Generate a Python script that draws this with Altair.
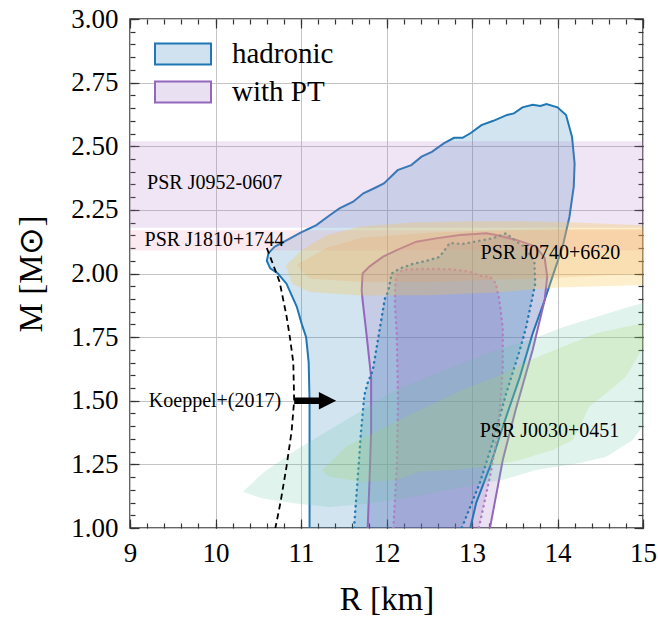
import altair as alt
import pandas as pd

SERIF = "Liberation Serif"

# ---------------- axes ----------------
x_domain = [9, 15]
y_domain = [1.0, 3.0]
x_major = [9, 10, 11, 12, 13, 14, 15]
y_major = [1.0, 1.25, 1.5, 1.75, 2.0, 2.25, 2.5, 2.75, 3.0]
x_minor = [round(9 + 0.2 * k, 2) for k in range(31)]
y_minor = [round(1 + 0.05 * k, 2) for k in range(41)]

# ---------------- contours ----------------
hadronic_R = [11.10, 11.10, 11.10, 11.09, 11.06, 11.01, 10.95, 10.83, 10.73, 10.64, 10.60, 10.62,
              10.69, 10.83, 10.99, 11.18, 11.34, 11.45, 11.61, 11.73, 11.85, 11.97, 12.13, 12.29,
              12.41, 12.53, 12.67, 12.79, 12.89, 12.99, 13.11, 13.25, 13.41, 13.49, 13.59, 13.71,
              13.80, 13.87, 14.00, 14.10, 14.17, 14.20, 14.19, 14.14, 14.06, 13.94, 13.85, 13.71,
              13.56, 13.36, 13.21, 13.05, 12.98]
hadronic_M = [1.00, 1.32, 1.50, 1.65, 1.75, 1.80, 1.87, 1.96, 2.00, 2.02, 2.05, 2.08,
              2.105, 2.13, 2.16, 2.19, 2.23, 2.256, 2.282, 2.315, 2.334, 2.354, 2.406, 2.426,
              2.459, 2.478, 2.511, 2.533, 2.533, 2.553, 2.583, 2.600, 2.623, 2.629, 2.653, 2.663,
              2.658, 2.666, 2.653, 2.623, 2.537, 2.432, 2.341, 2.223, 2.105, 1.987, 1.896, 1.765,
              1.594, 1.398, 1.241, 1.10, 1.00]

pt_R = [11.78, 11.80, 11.82, 11.82, 11.765, 11.72, 11.71, 11.72, 11.80, 11.96, 12.12, 12.35,
        12.58, 12.86, 13.17, 13.28, 13.52, 13.75, 13.85, 13.88, 13.85, 13.71, 13.51, 13.36, 13.21]
pt_M = [1.00, 1.176, 1.372, 1.594, 1.765, 1.896, 1.935, 2.00, 2.027, 2.066, 2.092, 2.125,
        2.138, 2.151, 2.158, 2.151, 2.132, 2.105, 2.06, 1.987, 1.896, 1.70, 1.464, 1.267, 1.00]

hadronic_in_R = [11.62, 11.66, 11.70, 11.74, 11.78, 11.84, 11.92, 11.98, 12.02, 12.06, 12.16, 12.30,
                 12.47, 12.62, 12.74, 12.89, 13.03, 13.24, 13.40, 13.48, 13.63, 13.73, 13.74, 13.70,
                 13.63, 13.56, 13.40, 13.24, 13.09, 12.88]
hadronic_in_M = [1.00, 1.18, 1.37, 1.52, 1.57, 1.62, 1.78, 1.90, 1.93, 2.00, 2.02, 2.037,
                 2.05, 2.065, 2.12, 2.116, 2.125, 2.138, 2.158, 2.136, 2.10, 2.045, 1.96, 1.896,
                 1.785, 1.70, 1.529, 1.333, 1.176, 1.00]

pt_in_R = [12.08, 12.12, 12.135, 12.12, 12.10, 12.10, 12.12, 12.19, 12.43, 12.74, 12.97, 13.13,
           13.21, 13.28, 13.32, 13.36, 13.36, 13.34, 13.30, 13.21, 13.08]
pt_in_M = [1.00, 1.24, 1.50, 1.765, 1.87, 1.948, 1.994, 2.014, 2.018, 2.017, 2.007, 1.988,
           1.988, 1.961, 1.896, 1.785, 1.634, 1.529, 1.372, 1.202, 1.00]

koeppel_R = [10.60, 10.68, 10.75, 10.83, 10.87, 10.91, 10.92, 10.89, 10.83, 10.76, 10.70]
koeppel_M = [2.10, 2.03, 1.967, 1.834, 1.75, 1.65, 1.50, 1.38, 1.24, 1.10, 1.00]

# ---------------- pulsar constraints ----------------
band_names = ["PSR J0952-0607", "PSR J1810+1744"]
band_lo = [2.18, 2.09]
band_hi = [2.52, 2.17]

j0740_out_R = [10.82, 11.00, 11.30, 11.70, 12.30, 13.00, 13.60, 14.20, 15.00, 15.00, 14.50, 14.00,
               13.25, 12.50, 11.70, 11.10, 10.90]
j0740_out_M = [2.03, 2.09, 2.15, 2.185, 2.20, 2.205, 2.205, 2.20, 2.19, 1.955, 1.95, 1.945,
               1.925, 1.915, 1.914, 1.927, 1.96]
j0740_in_R = [10.95, 11.30, 11.70, 12.50, 13.30, 14.00, 15.00, 15.00, 14.40, 13.80, 13.25, 12.50,
              11.70, 11.10]
j0740_in_M = [2.035, 2.10, 2.14, 2.16, 2.17, 2.175, 2.175, 2.00, 1.99, 1.98, 1.975, 1.967,
              1.967, 1.98]

j0030_out_R = [10.32, 10.55, 10.94, 11.33, 11.80, 12.31, 12.89, 13.36, 13.75, 14.26, 14.57, 14.88,
               15.00, 15.00, 14.85, 14.46, 14.07, 13.68, 13.29, 12.89, 12.50, 12.11, 11.72, 11.33,
               10.94, 10.55]
j0030_out_M = [1.142, 1.116, 1.096, 1.083, 1.096, 1.123, 1.162, 1.19, 1.228, 1.255, 1.28, 1.346,
               1.40, 1.884, 1.87, 1.83, 1.79, 1.74, 1.70, 1.648, 1.595, 1.543, 1.464, 1.385,
               1.306, 1.215]
j0030_in_R = [11.25, 11.53, 11.92, 12.31, 12.89, 13.29, 13.68, 14.07, 14.46, 15.00, 15.00, 14.80,
              14.57, 14.37, 14.26, 14.18, 13.95, 13.56, 13.17, 12.78, 12.39, 12.11, 11.72, 11.33]
j0030_in_M = [1.228, 1.32, 1.385, 1.45, 1.543, 1.595, 1.66, 1.713, 1.766, 1.805, 1.71, 1.594,
              1.529, 1.477, 1.398, 1.346, 1.307, 1.267, 1.241, 1.228, 1.221, 1.188, 1.182, 1.201]

# ---------------- annotations ----------------
label_text = ["PSR J0952-0607", "PSR J1810+1744", "PSR J0740+6620", "PSR J0030+0451", "Koeppel+(2017)"]
label_R = [9.20, 9.17, 13.10, 13.09, 9.22]
label_M = [2.354, 2.132, 2.081, 1.38, 1.50]

arrow_R = [10.92, 11.24]
arrow_head_R = [11.31]
arrow_M = [1.50]

legend_labels = ["hadronic", "with PT"]
legend_fill = ["#d0e2ef", "#e9e0f1"]
legend_stroke = ["#1f77b4", "#9467bd"]

BLUE = "#1f77b4"
PURPLE = "#9467bd"

XS = alt.Scale(domain=x_domain, nice=False, zero=False)
YS = alt.Scale(domain=y_domain, nice=False, zero=False)


def X(field, axis=None):
    return alt.X(field, type="quantitative", scale=XS, axis=axis)


def Y(field, axis=None):
    return alt.Y(field, type="quantitative", scale=YS, axis=axis)


def poly(R, M):
    return pd.DataFrame({"R": R, "M": M, "i": list(range(len(R)))})


def fill_layer(R, M, color, op):
    return alt.Chart(poly(R, M)).mark_line(
        fill=color, fillOpacity=op, strokeOpacity=0, strokeWidth=0, clip=True
    ).encode(x=X("R"), y=Y("M"), order=alt.Order("i:Q"))


def line_layer(R, M, color, width, dash=None, op=1.0, cap="butt"):
    kw = dict(color=color, strokeWidth=width, opacity=op, clip=True, strokeCap=cap)
    if dash is not None:
        kw["strokeDash"] = dash
    return alt.Chart(poly(R, M)).mark_line(**kw).encode(
        x=X("R"), y=Y("M"), order=alt.Order("i:Q"))


# ---- axis layers ----
anchor = pd.DataFrame({"R": [x_domain[0]], "M": [y_domain[0]]})


def tick_axis(orient, values, size):
    return alt.Axis(orient=orient, values=values, offset=-size, tickSize=size,
                    tickColor="#333333", tickWidth=1.2, labels=False, domain=False,
                    grid=False, title=None)


main_x = alt.Axis(orient="bottom", values=x_major, format="d", labelFont=SERIF,
                  labelFontSize=27, labelColor="black", labelPadding=12, labelFlush=False,
                  labelOverlap=False, ticks=False, domain=False, grid=True,
                  gridColor="#c4c4c4", gridWidth=1, title="R [km]", titleFont=SERIF,
                  titleFontSize=33, titleFontWeight="normal", titleColor="black",
                  titlePadding=17)
main_y = alt.Axis(orient="left", values=y_major, format=".2f", labelFont=SERIF,
                  labelFontSize=27, labelColor="black", labelPadding=12, labelFlush=False,
                  labelOverlap=False, ticks=False, domain=False, grid=True,
                  gridColor="#c4c4c4", gridWidth=1, title="M [M⊙]", titleFont=SERIF,
                  titleFontSize=33, titleFontWeight="normal", titleColor="black",
                  titlePadding=22)

base = alt.Chart(anchor).mark_point(opacity=0)
ax_main = base.encode(x=X("R", main_x), y=Y("M", main_y))
ax_b = base.encode(x=X("R", tick_axis("bottom", x_major, 9)), y=Y("M", tick_axis("left", y_major, 9)))
ax_t = base.encode(x=X("R", tick_axis("top", x_major, 9)), y=Y("M", tick_axis("right", y_major, 9)))
ax_bm = base.encode(x=X("R", tick_axis("bottom", x_minor, 5)), y=Y("M", tick_axis("left", y_minor, 5)))
ax_tm = base.encode(x=X("R", tick_axis("top", x_minor, 5)), y=Y("M", tick_axis("right", y_minor, 5)))

# ---- contour fills ----
f_h = fill_layer(hadronic_R, hadronic_M, BLUE, 0.2)
f_p = fill_layer(pt_R, pt_M, PURPLE, 0.2)
f_hi = fill_layer(hadronic_in_R, hadronic_in_M, BLUE, 0.2)
f_pi = fill_layer(pt_in_R, pt_in_M, PURPLE, 0.2)

# ---- contour lines ----
l_h = line_layer(hadronic_R, hadronic_M, BLUE, 2)
l_p = line_layer(pt_R, pt_M, PURPLE, 2)
l_hi = line_layer(hadronic_in_R, hadronic_in_M, BLUE, 2.4, dash=[0.4, 5.0], cap="round")
l_pi = line_layer(pt_in_R, pt_in_M, "#b07cc6", 2.4, dash=[0.4, 5.0], cap="round")

# ---- pulsar bands ----
bands = pd.DataFrame({"name": band_names, "lo": band_lo, "hi": band_hi,
                      "x0": [x_domain[0]] * 2, "x1": [x_domain[1]] * 2})
band_colors = ["#b07cc6", "#ec80aa"]
band_opacity = [0.2, 0.17]
band_layers = []
for k in range(2):
    band_layers.append(
        alt.Chart(bands.iloc[[k]]).mark_rect(color=band_colors[k], opacity=band_opacity[k]).encode(
            x=X("x0"), x2="x1", y=Y("lo"), y2="hi"))

j0740_o = fill_layer(j0740_out_R, j0740_out_M, "#f7c744", 0.28)
j0740_i = fill_layer(j0740_in_R, j0740_in_M, "#f0a050", 0.2)
j0030_o = fill_layer(j0030_out_R, j0030_out_M, "#66c2a5", 0.2)
j0030_i = fill_layer(j0030_in_R, j0030_in_M, "#a6d854", 0.2)

# ---- Koeppel ----
koeppel = line_layer(koeppel_R, koeppel_M, "black", 1.8, dash=[6, 4])
shaft = alt.Chart(pd.DataFrame({"r0": [arrow_R[0]], "r1": [arrow_R[1]], "m": arrow_M})).mark_rule(
    color="black", strokeWidth=6.5).encode(x=X("r0"), x2="r1", y=Y("m"))
head = alt.Chart(pd.DataFrame({"r": arrow_head_R, "m": arrow_M})).mark_point(
    shape="M-1,-1L1,0L-1,1Z", filled=True, color="black", opacity=1, size=300).encode(
    x=X("r"), y=Y("m"))

texts = alt.Chart(pd.DataFrame({"t": label_text, "R": label_R, "M": label_M})).mark_text(
    align="left", baseline="middle", font=SERIF, fontSize=20, color="black").encode(
    x=X("R"), y=Y("M"), text="t:N")

# ---- legend ----
RECT = "M-1.2727,-0.4773L1.2727,-0.4773L1.2727,0.4773L-1.2727,0.4773Z"
SYM = 1936
leg = alt.Legend(title=None, orient="none", legendX=30, legendY=12, direction="vertical",
                 labelFont=SERIF, labelFontSize=29, labelColor="black", symbolType=RECT,
                 symbolSize=SYM, symbolStrokeWidth=2, labelOffset=26, rowPadding=0,
                 symbolOpacity=1, padding=0)
legend_layer = alt.Chart(pd.DataFrame({"label": legend_labels})).mark_point(
    shape=RECT, filled=True, size=SYM, strokeWidth=2, opacity=1).encode(
    x=alt.value(-3000), y=alt.value(-3000),
    fill=alt.Fill("label:N", scale=alt.Scale(domain=legend_labels, range=legend_fill), legend=leg),
    stroke=alt.Stroke("label:N", scale=alt.Scale(domain=legend_labels, range=legend_stroke), legend=leg),
)

chart = alt.layer(
    ax_main, ax_b, ax_t, ax_bm, ax_tm,
    f_h, f_p, f_hi, f_pi,
    l_h, l_p, l_hi, l_pi,
    *band_layers, j0740_o, j0740_i, j0030_o, j0030_i,
    koeppel, shaft, head, texts, legend_layer,
).resolve_axis(x="independent", y="independent").properties(
    width=513, height=509,
    autosize=alt.AutoSizeParams(type="none"),
    padding={"left": 130, "top": 19, "right": 15, "bottom": 89},
    background="white",
).configure_view(stroke="#333333", strokeWidth=1.5)

chart.save("out.html", embed_options={"renderer": "svg", "actions": False})
